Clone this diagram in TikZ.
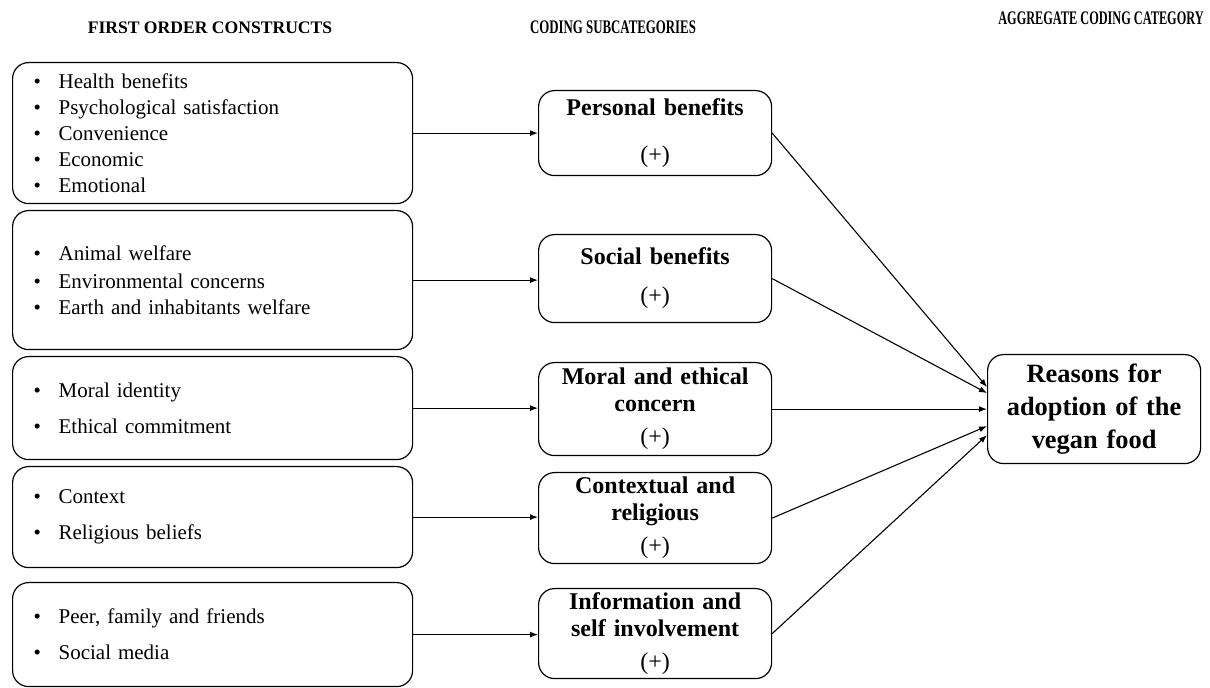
\documentclass[tikz,border=0pt]{standalone}
\usepackage{fontspec}
\setmainfont{Liberation Serif}
\usetikzlibrary{arrows.meta}

\newcommand{\bul}[1]{\makebox[12.5pt][l]{\textbullet}#1}

\begin{document}
\begin{tikzpicture}[x=0.5pt,y=-0.5pt,
  hdr/.style={font=\bfseries\fontsize{8.8}{10}\selectfont, inner sep=0pt},
  hdrc/.style={font=\bfseries\fontsize{9.6}{11}\selectfont, inner sep=0pt},
  srcbox/.style={draw, rounded corners=8pt, line width=0.6pt, anchor=north west,
    minimum width=200pt, text width=179pt, inner xsep=10.5pt, inner ysep=0pt,
    align=left, font=\fontsize{10.5}{13}\selectfont},
  subbox/.style={draw, rounded corners=8pt, line width=0.6pt, anchor=north west,
    minimum width=116.5pt, text width=112pt, inner xsep=2pt, inner ysep=0pt,
    align=center, font=\bfseries\fontsize{12}{13.5}\selectfont},
  aggbox/.style={draw, rounded corners=8pt, line width=0.6pt, anchor=north west,
    minimum width=106.5pt, minimum height=54.5pt, text width=104pt, inner sep=0pt,
    align=center, font=\bfseries\fontsize{13.2}{16.5}\selectfont},
  link/.style={line width=0.55pt, -{Latex[length=4pt,width=3pt]}}
]
\useasboundingbox (0,0) rectangle (1210,688);

% column headings (the two right ones are set condensed)
\node[hdr] (h1) at (210,28) {FIRST ORDER CONSTRUCTS};
\node[hdrc] (h2) at (613,27) {\scalebox{0.67}[1]{CODING SUBCATEGORIES}};
\node[hdrc] (h3) at (1101,18) {\scalebox{0.64}[1]{AGGREGATE CODING CATEGORY}};

% first order constructs
\node[srcbox, minimum height=70.5pt] (l1) at (12,62)
  {\bul{Health benefits}\\ \bul{Psychological satisfaction}\\ \bul{Convenience}\\ \bul{Economic}\\ \bul{Emotional}};
\node[srcbox, minimum height=69.5pt] (l2) at (12,210)
  {\bul{Animal welfare}\\[1pt] \bul{Environmental concerns}\\ \bul{Earth and inhabitants welfare}\\[6pt]};
\node[srcbox, minimum height=51.5pt] (l3) at (12,356)
  {\bul{Moral identity}\\[5pt] \bul{Ethical commitment}};
\node[srcbox, minimum height=50.5pt] (l4) at (12,466)
  {\bul{Context}\\[5pt] \bul{Religious beliefs}};
\node[srcbox, minimum height=52pt] (l5) at (12,582)
  {\bul{Peer, family and friends}\\[5pt] \bul{Social media}};

% coding subcategories
\node[subbox, minimum height=42.5pt] (m1) at (538,90)
  {Personal benefits\\[10pt]{\mdseries (+)}};
\node[subbox, minimum height=44pt] (m2) at (538,234)
  {Social benefits\\[6pt]{\mdseries (+)}};
\node[subbox, minimum height=46.5pt] (m3) at (538,362)
  {Moral and ethical\\ concern\\[3pt]{\mdseries (+)}};
\node[subbox, minimum height=45.5pt] (m4) at (538,472)
  {Contextual and\\ religious\\[3pt]{\mdseries (+)}};
\node[subbox, minimum height=45pt] (m5) at (538,588)
  {Information and\\ self involvement\\[3pt]{\mdseries (+)}};

% aggregate category
\node[aggbox] (r) at (987,354) {Reasons for\\ adoption of the\\ vegan food};

% constructs to subcategories
\foreach \i in {1,...,5}
  \draw[link] (l\i.east) -- (l\i.east -| m\i.west);

% subcategories to aggregate category
\draw[link] (m1.east) -- ([yshift=11pt]r.west);
\draw[link] (m2.east) -- ([yshift=8pt]r.west);
\draw[link] (m3.east) -- (m3.east -| r.west);
\draw[link] (m4.east) -- ([yshift=-8.5pt]r.west);
\draw[link] (m5.east) -- ([yshift=-13pt]r.west);
\end{tikzpicture}
\end{document}
